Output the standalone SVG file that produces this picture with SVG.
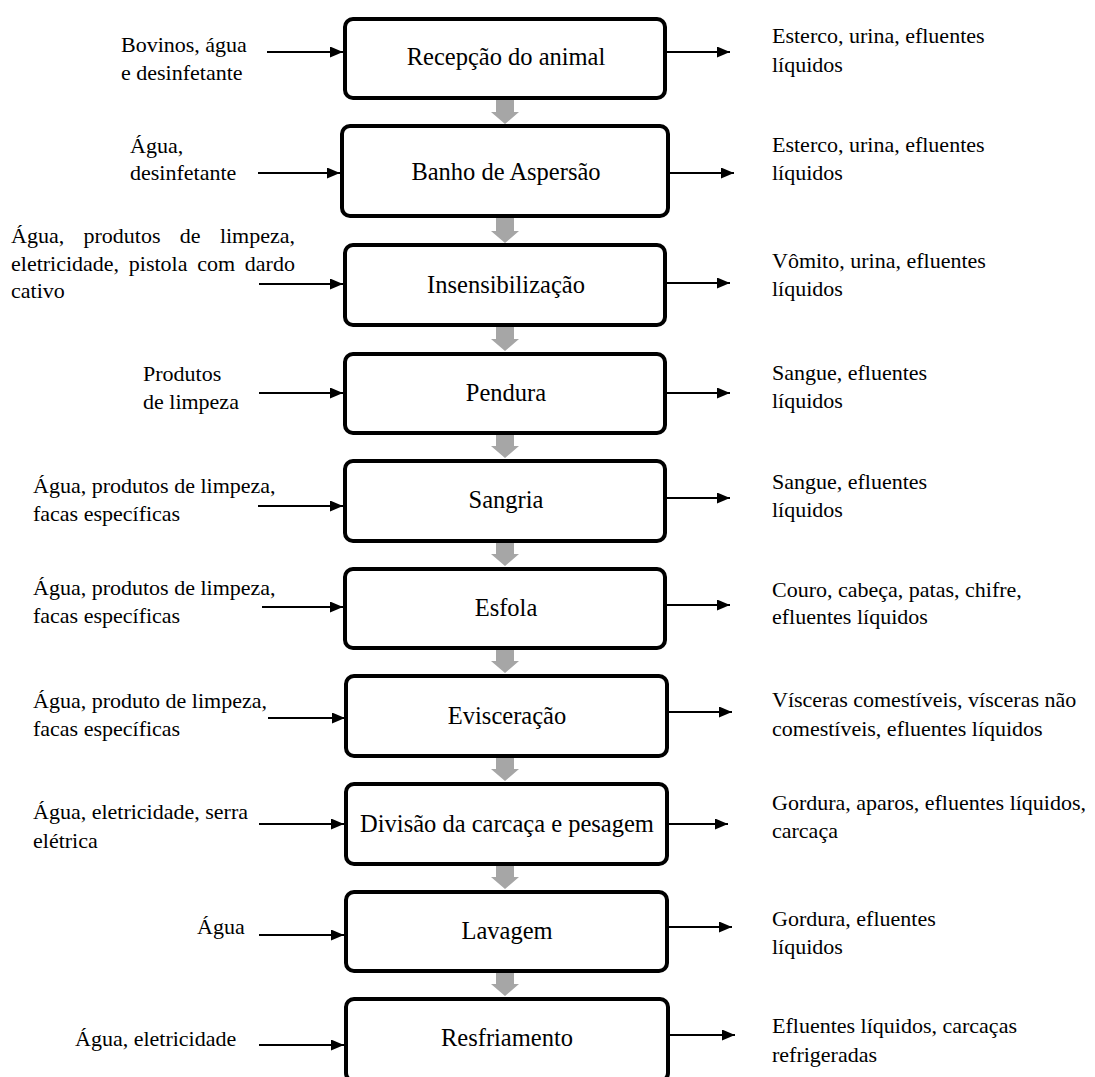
<svg xmlns="http://www.w3.org/2000/svg" width="1095" height="1077" viewBox="0 0 1095 1077">
<style>
  .box { fill: #ffffff; stroke: #000000; stroke-width: 4; }
  .bt { font-family: "Liberation Serif", "Times New Roman", serif; font-size: 24.5px; fill: #000; text-anchor: middle; }
  .st { font-family: "Liberation Serif", "Times New Roman", serif; font-size: 22px; fill: #000; }
  .ar { stroke: #000; stroke-width: 2; fill: none; marker-end: url(#ah); }
  .flow { fill: #a6a6a6; }
</style>
<defs>
  <marker id="ah" markerUnits="userSpaceOnUse" markerWidth="13" markerHeight="11" refX="13" refY="5.5" orient="auto">
    <path d="M0,0 L13,5.5 L0,11 z" fill="#000"/>
  </marker>
</defs>
<rect width="1095" height="1077" fill="#ffffff"/>

<g id="connectors">
  <path class="flow" d="M496,100 H514 V112 H519 L505,124 L491,112 H496 z"/>
  <path class="flow" d="M496,218 H514 V231 H519 L505,243 L491,231 H496 z"/>
  <path class="flow" d="M496,327 H514 V339 H519 L505,351 L491,339 H496 z"/>
  <path class="flow" d="M496,435 H514 V446 H519 L505,458 L491,446 H496 z"/>
  <path class="flow" d="M496,543 H514 V554 H519 L505,566 L491,554 H496 z"/>
  <path class="flow" d="M496,650 H514 V661 H519 L505,673 L491,661 H496 z"/>
  <path class="flow" d="M496,758 H514 V769 H519 L505,781 L491,769 H496 z"/>
  <path class="flow" d="M496,866 H514 V877 H519 L505,889 L491,877 H496 z"/>
  <path class="flow" d="M496,973 H514 V984 H519 L505,996 L491,984 H496 z"/>
  <line class="ar" x1="267" y1="52" x2="343" y2="52"/>
  <line class="ar" x1="258" y1="173" x2="340" y2="173"/>
  <line class="ar" x1="259" y1="284" x2="343" y2="284"/>
  <line class="ar" x1="259" y1="393" x2="343" y2="393"/>
  <line class="ar" x1="258" y1="506" x2="343" y2="506"/>
  <line class="ar" x1="262" y1="607" x2="343" y2="607"/>
  <line class="ar" x1="268" y1="718" x2="345" y2="718"/>
  <line class="ar" x1="259" y1="824" x2="344" y2="824"/>
  <line class="ar" x1="259" y1="935" x2="344" y2="935"/>
  <line class="ar" x1="259" y1="1045" x2="344" y2="1045"/>
  <line class="ar" x1="667" y1="52" x2="730" y2="52"/>
  <line class="ar" x1="670" y1="173" x2="734" y2="173"/>
  <line class="ar" x1="667" y1="283" x2="730" y2="283"/>
  <line class="ar" x1="667" y1="393" x2="730" y2="393"/>
  <line class="ar" x1="667" y1="498" x2="730" y2="498"/>
  <line class="ar" x1="667" y1="605" x2="730" y2="605"/>
  <line class="ar" x1="669" y1="712" x2="732" y2="712"/>
  <line class="ar" x1="669" y1="824" x2="728" y2="824"/>
  <line class="ar" x1="669" y1="927" x2="732" y2="927"/>
  <line class="ar" x1="670" y1="1035" x2="735" y2="1035"/>
</g>

<g id="n1"><rect class="box" x="345" y="19" width="320" height="79" rx="8"/><text class="bt" x="506" y="65">Recepção do animal</text></g>
<g id="n2"><rect class="box" x="342" y="126" width="326" height="90" rx="8"/><text class="bt" x="506" y="180">Banho de Aspersão</text></g>
<g id="n3"><rect class="box" x="345" y="245" width="320" height="80" rx="8"/><text class="bt" x="506" y="293">Insensibilização</text></g>
<g id="n4"><rect class="box" x="345" y="354" width="320" height="79" rx="8"/><text class="bt" x="506" y="401">Pendura</text></g>
<g id="n5"><rect class="box" x="345" y="461" width="320" height="80" rx="8"/><text class="bt" x="506" y="508">Sangria</text></g>
<g id="n6"><rect class="box" x="345" y="569" width="320" height="79" rx="8"/><text class="bt" x="506" y="616">Esfola</text></g>
<g id="n7"><rect class="box" x="346" y="676" width="321" height="80" rx="8"/><text class="bt" x="507" y="724">Evisceração</text></g>
<g id="n8"><rect class="box" x="346" y="784" width="321" height="80" rx="8"/><text class="bt" x="507" y="832">Divisão da carcaça e pesagem</text></g>
<g id="n9"><rect class="box" x="346" y="892" width="321" height="79" rx="8"/><text class="bt" x="507" y="939">Lavagem</text></g>
<g id="n10"><rect class="box" x="346" y="999" width="322" height="82" rx="8"/><text class="bt" x="507" y="1046">Resfriamento</text></g>

<g id="inputs">
  <text class="st" x="121" y="52">Bovinos, água</text>
  <text class="st" x="121" y="80">e desinfetante</text>
  <text class="st" x="130" y="153">Água,</text>
  <text class="st" x="130" y="180">desinfetante</text>
  <text class="st" y="243"><tspan x="11">Água,</tspan><tspan x="83.5">produtos</tspan><tspan x="179.8">de</tspan><tspan x="219.9">limpeza,</tspan></text>
  <text class="st" y="271"><tspan x="11">eletricidade,</tspan><tspan x="128.8">pistola</tspan><tspan x="197.2">com</tspan><tspan x="244.8">dardo</tspan></text>
  <text class="st" x="11" y="298">cativo</text>
  <text class="st" x="143" y="381">Produtos</text>
  <text class="st" x="143" y="409">de limpeza</text>
  <text class="st" x="33" y="493">Água, produtos de limpeza,</text>
  <text class="st" x="33" y="521">facas específicas</text>
  <text class="st" x="33" y="595">Água, produtos de limpeza,</text>
  <text class="st" x="33" y="623">facas específicas</text>
  <text class="st" x="33" y="708">Água, produto de limpeza,</text>
  <text class="st" x="33" y="736">facas específicas</text>
  <text class="st" x="33" y="819">Água, eletricidade, serra</text>
  <text class="st" x="33" y="848">elétrica</text>
  <text class="st" x="197" y="934">Água</text>
  <text class="st" x="75" y="1046">Água, eletricidade</text>
</g>

<g id="outputs">
  <text class="st" x="772" y="43">Esterco, urina, efluentes</text>
  <text class="st" x="772" y="72">líquidos</text>
  <text class="st" x="772" y="152">Esterco, urina, efluentes</text>
  <text class="st" x="772" y="180">líquidos</text>
  <text class="st" x="772" y="268">Vômito, urina, efluentes</text>
  <text class="st" x="772" y="296">líquidos</text>
  <text class="st" x="772" y="380">Sangue, efluentes</text>
  <text class="st" x="772" y="408">líquidos</text>
  <text class="st" x="772" y="489">Sangue, efluentes</text>
  <text class="st" x="772" y="517">líquidos</text>
  <text class="st" x="772" y="597">Couro, cabeça, patas, chifre,</text>
  <text class="st" x="772" y="624">efluentes líquidos</text>
  <text class="st" x="772" y="707">Vísceras comestíveis, vísceras não</text>
  <text class="st" x="772" y="736">comestíveis, efluentes líquidos</text>
  <text class="st" x="772" y="810">Gordura, aparos, efluentes líquidos,</text>
  <text class="st" x="772" y="838">carcaça</text>
  <text class="st" x="772" y="926">Gordura, efluentes</text>
  <text class="st" x="772" y="954">líquidos</text>
  <text class="st" x="772" y="1033">Efluentes líquidos, carcaças</text>
  <text class="st" x="772" y="1062">refrigeradas</text>
</g>
</svg>
